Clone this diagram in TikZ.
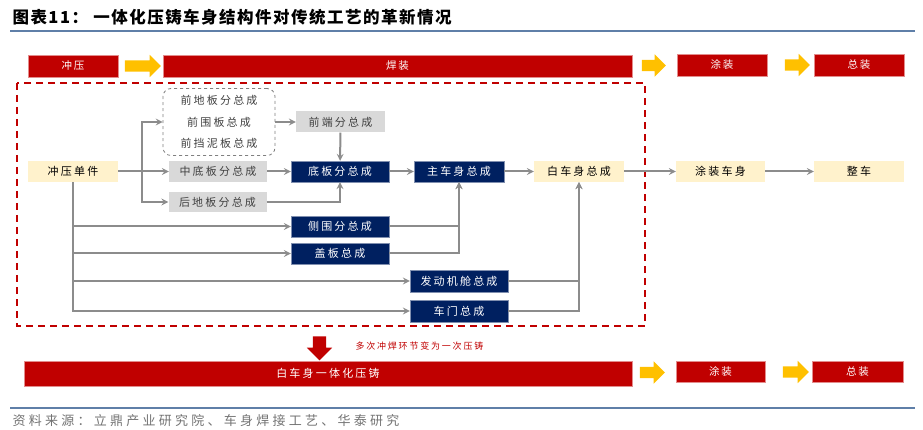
\documentclass[tikz,border=0pt]{standalone}
\usepackage{fontspec}
\setmainfont{Noto Sans CJK SC}
\newfontfamily\boxcjk{Noto Sans CJK SC}[LetterSpace=20]
\newfontfamily\barcjk{Noto Sans CJK SC}[LetterSpace=15]
\newfontfamily\titlecjk{Noto Sans CJK SC}[LetterSpace=9]
\newfontfamily\sourcecjk{Noto Sans CJK SC}[LetterSpace=25]
\usepackage{tikz}
\usetikzlibrary{shapes.arrows, arrows, positioning}
\definecolor{barred}{HTML}{C00000}
\definecolor{navy}{HTML}{002060}
\definecolor{cream}{HTML}{FFF2CC}
\definecolor{partgray}{HTML}{D9D9D9}
\definecolor{arrowyellow}{HTML}{FFC000}
\definecolor{rulebl}{HTML}{5F7FA8}
\definecolor{linkgray}{HTML}{8C8C8C}
\tikzstyle{bar} = [rectangle, minimum height=22pt, inner sep=0pt, fill=barred, draw=barred!45, text=white, font={\barcjk\fontsize{10.5}{12}\selectfont}]
\tikzstyle{yarrow} = [single arrow, fill=arrowyellow, draw=none, inner sep=0pt, inner ysep=5.5pt, minimum width=0pt, single arrow head extend=5.5pt]
\tikzstyle{stagebox} = [rectangle, minimum width=90pt, minimum height=21pt, inner sep=0pt, font={\boxcjk\fontsize{11}{13}\selectfont}]
\tikzstyle{creambox} = [stagebox, fill=cream, text=black]
\tikzstyle{partbox} = [stagebox, minimum width=98pt, fill=partgray, text=black!75]
\tikzstyle{navybox} = [stagebox, minimum width=98pt, fill=navy, draw=navy!50, text=white]
\tikzstyle{groupbox} = [rectangle, rounded corners=8pt, draw=gray, dashed, line width=0.8pt, minimum width=112pt, minimum height=67pt, align=center, text=black!75, font={\boxcjk\fontsize{11}{21.5}\selectfont}]
\tikzstyle{link} = [draw=linkgray, line width=2pt, ->, >=stealth]

\begin{document}
\begin{tikzpicture}[x=1pt, y=-1pt]
    \useasboundingbox (0,0) rectangle (923,430);

    % Title
    \node (title) [anchor=west, font={\titlecjk\bfseries\fontsize{16.5}{19}\selectfont}] at (9,17) {图表11： 一体化压铸车身结构件对传统工艺的革新情况};
    \draw [rulebl, line width=2.5pt] (10,31) -- (915,31);

    % Process stages on top
    \node (pressbar) [bar, minimum width=90pt] at (73,66) {冲压};
    \node (arr1) [yarrow, minimum height=36pt] at (140,66) {};
    \node (weldbar) [bar, minimum width=469pt] at (397.5,66) {焊装};
    \node (arr2) [yarrow, minimum height=24pt] at (651,65.5) {};
    \node (paintbar) [bar, minimum width=90pt] at (722,65) {涂装};
    \node (arr3) [yarrow, minimum height=25pt] at (794.5,65) {};
    \node (asmbar) [bar, minimum width=90pt] at (859,65) {总装};

    % Welding zone
    \draw [barred, line width=1.6pt, dash pattern=on 7pt off 5pt] (17,83) rectangle (645,326);

    % Place nodes
    \node (stamp) [creambox] at (73,171.5) {冲压单件};
    \node (frontgrp) [groupbox] at (219,122) {前地板分总成\\前围板总成\\前挡泥板总成};
    \node (frontend) [partbox, minimum width=89pt, right of=frontgrp, node distance=121.5pt] {前端分总成};
    \node (midfloor) [partbox, right of=stamp, node distance=145pt] {中底板分总成};
    \node (floor) [navybox, right of=midfloor, node distance=122pt] {底板分总成};
    \node (body) [navybox, minimum width=90pt, right of=floor, node distance=119pt] {主车身总成};
    \node (biw) [creambox, right of=body, node distance=120pt] {白车身总成};
    \node (painted) [creambox, minimum width=89pt, right of=biw, node distance=141.5pt] {涂装车身};
    \node (vehicle) [creambox, right of=painted, node distance=138.5pt] {整车};
    \node (rearfloor) [partbox, minimum height=20pt] at (217.5,202) {后地板分总成};
    \node (side) [navybox] at (340,226.5) {侧围分总成};
    \node (cover) [navybox, below of=side, node distance=27pt] {盖板总成};
    \node (engine) [navybox, minimum height=22pt] at (459,281) {发动机舱总成};
    \node (door) [navybox, minimum height=22pt, below of=engine, node distance=30pt] {车门总成};
    \coordinate (split) at (142,171.5);

    % Draw edges
    \draw [link] (stamp) -- (midfloor);
    \draw [link] (split) |- (frontgrp);
    \draw [link] (split) |- (rearfloor);
    \draw [link] (stamp) |- (side);
    \draw [link] (stamp) |- (cover);
    \draw [link] (stamp) |- (engine);
    \draw [link] (stamp) |- (door);
    \draw [link] (frontgrp) -- (frontend);
    \draw [link] (frontend) -- (floor);
    \draw [link] (midfloor) -- (floor);
    \draw [link] (rearfloor) -| (floor);
    \draw [link] (floor) -- (body);
    \draw [link] (side) -| (body);
    \draw [link] (cover) -| (body);
    \draw [link] (body) -- (biw);
    \draw [link] (engine) -| (biw);
    \draw [link] (door) -| (biw);
    \draw [link] (biw) -- (painted);
    \draw [link] (painted) -- (vehicle);

    % Integrated die casting
    \node (downarr) [single arrow, shape border rotate=270, fill=barred, inner sep=6.5pt, minimum width=0pt, single arrow head extend=6pt, minimum height=24pt] at (319.5,345) {};
    \node (note) [anchor=west, text=barred, font={\boxcjk\fontsize{9}{11}\selectfont}] at (352,346) {多次冲焊环节变为一次压铸};
    \node (castbar) [bar, minimum width=608pt, minimum height=25pt, font={\boxcjk\fontsize{11}{13}\selectfont}] at (328,373.5) {白车身一体化压铸};
    \node (arr4) [yarrow, minimum height=25pt] at (649.5,372.5) {};
    \node (paintbar2) [bar, minimum width=89pt, minimum height=21pt] at (720.5,371.5) {涂装};
    \node (arr5) [yarrow, minimum height=26pt] at (793,372) {};
    \node (asmbar2) [bar, minimum width=91pt, minimum height=21pt] at (857.5,371.5) {总装};

    % Source
    \draw [rulebl, line width=2.5pt] (10,408) -- (915,408);
    \node (source) [anchor=west, text=black!55, font={\sourcecjk\fontsize{13}{15}\selectfont}] at (9,421) {资料来源：立鼎产业研究院、车身焊接工艺、华泰研究};
\end{tikzpicture}
\end{document}
